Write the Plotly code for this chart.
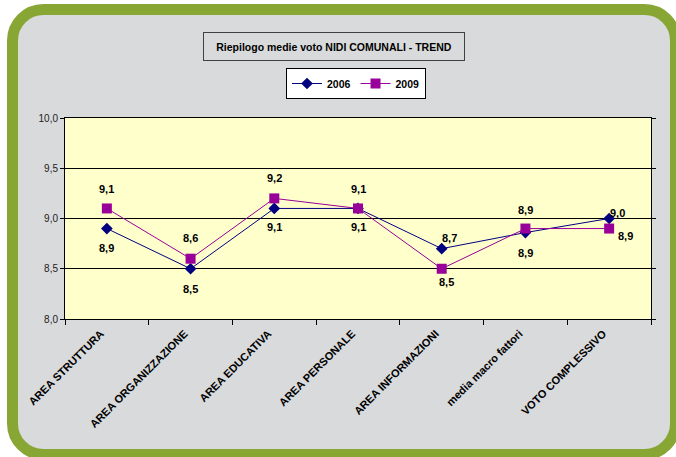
import plotly.graph_objects as go

# Categories and yearly mean scores
categories = [
    "AREA STRUTTURA",
    "AREA ORGANIZZAZIONE",
    "AREA EDUCATIVA",
    "AREA PERSONALE",
    "AREA INFORMAZIONI",
    "media macro fattori",
    "VOTO COMPLESSIVO",
]
values_2006 = [8.9, 8.5, 9.1, 9.1, 8.7, 8.86, 9.0]
values_2009 = [9.1, 8.6, 9.2, 9.1, 8.5, 8.9, 8.9]
y_ticks = [8.0, 8.5, 9.0, 9.5, 10.0]

# Pixel offsets (dx, dy) of the value labels relative to each point
offsets_2006 = [(0, -19), (0, -20), (0, -19), (0, -19), (8, 11), (0, -20), (8, 6)]
offsets_2009 = [(0, 19), (0, 21), (0, 20), (0, 19), (5, -13), (0, 19), (16, -7)]

W, H = 676, 457
L, R, T, B = 65, 25, 118, 138
PW, PH = W - L - R, H - T - B

NAVY = "#000080"
PURPLE = "#990099"
GREEN = "#88a634"
GREY = "#d9dadc"
FONT = "Arial, Liberation Sans, sans-serif"


def px(x, y):
    """Convert page pixels to paper coordinates."""
    return (x - L) / PW, (T + PH - y) / PH


def rounded_rect(x0, y0, x1, y1, r):
    k = 0.5523 * r

    def p(x, y):
        a, b = px(x, y)
        return f"{a:.5f},{b:.5f}"

    return " ".join([
        f"M {p(x0 + r, y0)}",
        f"L {p(x1 - r, y0)}",
        f"C {p(x1 - r + k, y0)} {p(x1, y0 + r - k)} {p(x1, y0 + r)}",
        f"L {p(x1, y1 - r)}",
        f"C {p(x1, y1 - r + k)} {p(x1 - r + k, y1)} {p(x1 - r, y1)}",
        f"L {p(x0 + r, y1)}",
        f"C {p(x0 + r - k, y1)} {p(x0, y1 - r + k)} {p(x0, y1 - r)}",
        f"L {p(x0, y0 + r)}",
        f"C {p(x0, y0 + r - k)} {p(x0 + r - k, y0)} {p(x0 + r, y0)}",
        "Z",
    ])


fig = go.Figure()

fig.add_trace(go.Scatter(
    x=categories, y=values_2006, name="2006", mode="lines+markers",
    line=dict(color=NAVY, width=1),
    marker=dict(symbol="diamond", size=9, color=NAVY),
    hoverinfo="x+y",
))
fig.add_trace(go.Scatter(
    x=categories, y=values_2009, name="2009", mode="lines+markers",
    line=dict(color=PURPLE, width=1),
    marker=dict(symbol="square", size=10, color=PURPLE),
    hoverinfo="x+y",
))

annotations = []
for vals, offs in ((values_2006, offsets_2006), (values_2009, offsets_2009)):
    for c, v, (dx, dy) in zip(categories, vals, offs):
        annotations.append(dict(
            x=c, y=v, xref="x", yref="y", text=f"{v:.1f}".replace(".", ","),
            showarrow=False, xshift=dx, yshift=dy,
            font=dict(family=FONT, size=11, color="black", weight="bold"),
        ))

tx, ty = px(334, 46)
annotations.append(dict(
    x=tx, y=ty, xref="paper", yref="paper", xanchor="center", yanchor="middle",
    text="Riepilogo medie voto NIDI COMUNALI - TREND", showarrow=False,
    font=dict(family=FONT, size=10.5, color="black", weight="bold"),
    bordercolor="#404040", borderwidth=1, borderpad=2, width=256, height=23,
))

shapes = [
    dict(type="path", path=rounded_rect(12.5, 9.5, 675.5, 454.5, 31),
         xref="paper", yref="paper", fillcolor=GREY,
         line=dict(color=GREEN, width=11), layer="below"),
    dict(type="rect", xref="x domain", yref="y domain", x0=0, x1=1, y0=0, y1=1,
         fillcolor="#ffffcc", line=dict(width=0), layer="below"),
]

lx, ly = px(356, 68)

fig.update_layout(
    width=W, height=H,
    margin=dict(l=L, r=R, t=T, b=B),
    paper_bgcolor="white",
    plot_bgcolor="#ffffcc",
    separators=",.",
    font=dict(family=FONT, color="black"),
    showlegend=True,
    legend=dict(
        orientation="h", x=lx, y=ly, xanchor="center", yanchor="top",
        bgcolor="white", bordercolor="black", borderwidth=1,
        font=dict(family=FONT, size=10.5, weight="bold"),
        itemwidth=30, tracegroupgap=0,
    ),
    xaxis=dict(
        type="category", categoryorder="array", categoryarray=categories,
        range=[-0.5, len(categories) - 0.5],
        ticks="outside", tickson="boundaries", ticklen=5, tickcolor="black",
        tickangle=-45, ticklabelshift=-6, ticklabelstandoff=3,
        tickfont=dict(family=FONT, size=11, color="black", weight="bold"),
        showline=True, linecolor="black", mirror=True, showgrid=False,
        fixedrange=True,
    ),
    yaxis=dict(
        range=[8, 10], tickvals=y_ticks, tickformat=".1f",
        ticks="outside", ticklen=4, tickcolor="black",
        showline=True, linecolor="black", mirror="ticks",
        showgrid=True, gridcolor="black", gridwidth=1, zeroline=False,
        tickfont=dict(family=FONT, size=10, color="#222222"),
        fixedrange=True,
    ),
    annotations=annotations,
    shapes=shapes,
)

fig.write_html("out.html")
